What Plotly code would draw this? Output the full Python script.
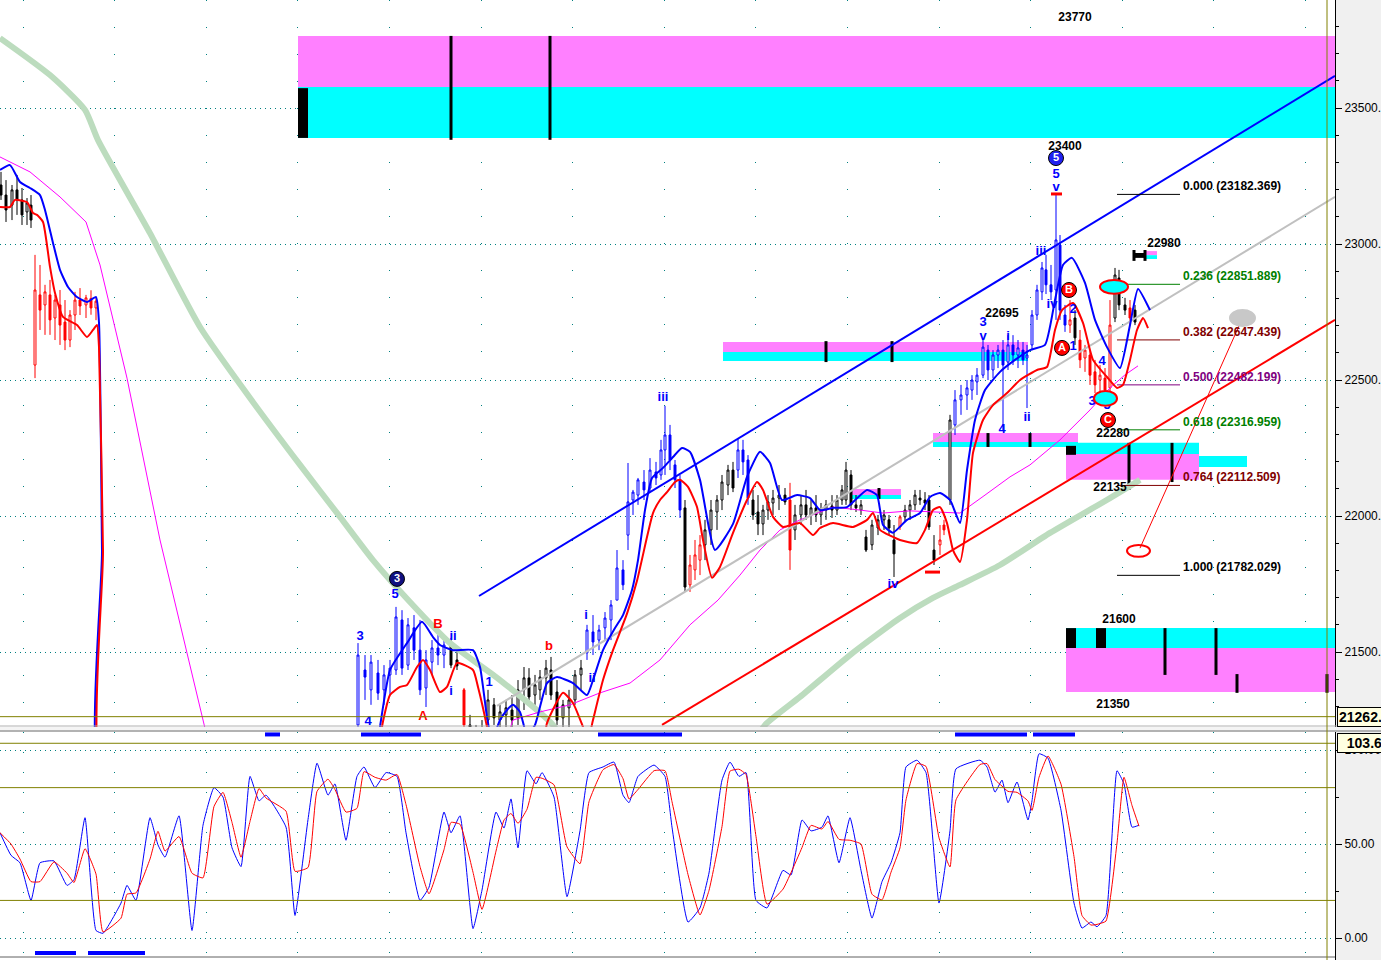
import plotly.graph_objects as go
import pandas as pd

# ------------------------------------------------------------------
# Axis ranges (price panel and stochastic panel)
# ------------------------------------------------------------------
PRICE_TOP, PRICE_BOTTOM = 23897, 21224.5
STOCH_TOP, STOCH_BOTTOM = 109.6, -11.7
X_END = 1335

price_ticks = [21500, 22000, 22500, 23000, 23500]
price_tick_text = ["21500.", "22000.", "22500.", "23000.", "23500."]
stoch_ticks = [0, 50, 100]
stoch_tick_text = ["0.00", "50.00", "100.00"]

# ------------------------------------------------------------------
# Candles: bar position, open, high, low, close, colour group
# ------------------------------------------------------------------
candle_x = [1, 6, 12, 17, 22, 27, 31, 35, 40, 45, 50, 55, 60, 65, 70, 75, 80, 86, 91, 96,
            358, 365, 371, 378, 384, 390, 396, 402, 408, 414, 420, 426, 432, 438, 444, 451, 457, 464,
            470, 476, 482, 488, 494, 500, 506, 512, 518, 524, 529, 535, 540, 546, 551, 557, 563, 569,
            575, 581, 587, 593, 599, 605, 611, 617, 623, 628, 633, 638, 644, 650, 656, 661, 665, 670,
            675, 680, 685, 690, 695, 700, 705, 711, 717, 722, 728, 733, 738, 743, 748, 753, 758, 763,
            768, 773, 779, 785, 790, 795, 801, 806, 811, 816, 821, 826, 832, 837, 842, 846, 851, 856,
            861, 866, 872, 878, 884, 889, 894, 900, 905, 910, 915, 920, 925, 929, 934, 940, 944, 950,
            955, 961, 967, 972, 977, 983, 988, 993, 998, 1003, 1008, 1013, 1018, 1023, 1027, 1032,
            1037, 1042, 1046, 1051, 1056, 1060, 1065, 1070, 1075, 1080, 1085, 1090, 1095, 1100, 1105,
            1110, 1115, 1119, 1125, 1130, 1135]
candle_open = [23217, 23180, 23143, 23199, 23162, 23118, 23143, 22555, 22813, 22776, 22813, 22728, 22776, 22713, 22647, 22739, 22794, 22776, 22800, 22765,
               21232, 21434, 21361, 21423, 21361, 21416, 21434, 21618, 21452, 21589, 21507, 21368, 21463, 21515, 21489, 21533, 21471, 21361,
               21232, 21195, 21170, 21250, 21306, 21250, 21269, 21287, 21258, 21361, 21405, 21342, 21361, 21405, 21434, 21353, 21258, 21295,
               21324, 21416, 21497, 21574, 21544, 21589, 21618, 21691, 21802, 21930, 22059, 22077, 22125, 22103, 22162, 22151, 22243, 22298,
               22188, 22133, 22030, 21747, 21802, 21838, 21894, 21949, 22015, 22059, 22114, 22169, 22169, 22243, 22206, 22059, 22015, 21971,
               22022, 22048, 22066, 22077, 22059, 21949, 22004, 22041, 22004, 22030, 22004, 22022, 22037, 22022, 22059, 22059, 22151, 22041,
               22022, 21923, 21894, 21956, 21986, 21986, 21912, 21960, 21997, 22022, 22041, 22066, 22059, 22059, 21875, 21894, 21967, 22059,
               22335, 22427, 22445, 22463, 22493, 22518, 22610, 22537, 22592, 22610, 22566, 22629, 22592, 22610, 22581, 22629,
               22739, 22824, 22905, 22850, 22831, 22996, 22739, 22702, 22728, 22647, 22581, 22592, 22530, 22500, 22507,
               22471, 22728, 22875, 22776, 22765, 22757]
candle_high = [23265, 23235, 23217, 23254, 23206, 23169, 23180, 22960, 22923, 22850, 22868, 22813, 22831, 22794, 22757, 22824, 22838, 22813, 22830, 22805,
               21533, 21489, 21489, 21471, 21452, 21471, 21666, 21654, 21625, 21636, 21618, 21507, 21544, 21563, 21544, 21552, 21507, 21368,
               21269, 21232, 21250, 21361, 21331, 21306, 21324, 21342, 21397, 21445, 21441, 21416, 21434, 21471, 21482, 21397, 21324, 21361,
               21434, 21471, 21600, 21636, 21600, 21647, 21691, 21875, 21838, 22195, 22096, 22140, 22169, 22213, 22199, 22280, 22405, 22335,
               22206, 22151, 22059, 21857, 21912, 21930, 21986, 22059, 22077, 22151, 22188, 22199, 22287, 22280, 22224, 22096, 22077, 22041,
               22077, 22096, 22114, 22103, 22122, 22041, 22077, 22096, 22059, 22077, 22048, 22059, 22077, 22077, 22114, 22199, 22169, 22077,
               22059, 21949, 21986, 22004, 22022, 22004, 21967, 22004, 22041, 22059, 22096, 22096, 22088, 22077, 21930, 21967, 21986, 22372,
               22463, 22482, 22500, 22518, 22544, 22655, 22629, 22610, 22629, 22647, 22665, 22665, 22647, 22640, 22629, 22757,
               22850, 22934, 22960, 22923, 23184, 23033, 22776, 22794, 22757, 22684, 22629, 22610, 22574, 22555, 22544,
               22794, 22912, 22905, 22802, 22794, 22776]
candle_low = [23162, 23081, 23088, 23107, 23070, 23070, 23059, 22507, 22684, 22666, 22666, 22647, 22629, 22610, 22621, 22684, 22739, 22728, 22740, 22720,
              21225, 21324, 21306, 21324, 21306, 21342, 21416, 21416, 21434, 21471, 21342, 21298, 21416, 21452, 21441, 21441, 21434, 21150,
              21177, 21140, 21122, 21195, 21232, 21195, 21214, 21221, 21232, 21287, 21324, 21306, 21324, 21342, 21324, 21232, 21221, 21221,
              21306, 21361, 21471, 21489, 21507, 21544, 21544, 21691, 21728, 21875, 22004, 22041, 22059, 22088, 22114, 22133, 22151, 22169,
              22103, 21993, 21721, 21721, 21765, 21783, 21838, 21894, 21949, 22022, 22077, 22088, 22140, 22151, 22041, 21986, 21930, 21930,
              21986, 22004, 22022, 22041, 21802, 21912, 21967, 21986, 21967, 21978, 21967, 21986, 21993, 22004, 22041, 22041, 22022, 22015,
              22004, 21868, 21875, 21930, 21949, 21930, 21776, 21949, 21978, 21986, 22022, 22041, 22022, 21949, 21820, 21857, 21930, 22041,
              22298, 22372, 22390, 22427, 22445, 22507, 22500, 22507, 22544, 22316, 22537, 22555, 22544, 22555, 22397, 22610,
              22721, 22794, 22816, 22794, 22721, 22721, 22677, 22673, 22629, 22544, 22530, 22482, 22452, 22445, 22434,
              22456, 22713, 22757, 22739, 22702, 22702]
candle_close = [23180, 23125, 23199, 23162, 23107, 23151, 23088, 22831, 22757, 22824, 22721, 22794, 22702, 22647, 22739, 22794, 22772, 22802, 22765, 22790,
                21489, 21408, 21463, 21349, 21416, 21441, 21629, 21441, 21600, 21507, 21361, 21471, 21515, 21489, 21526, 21452, 21449, 21232,
                21195, 21158, 21221, 21324, 21258, 21280, 21295, 21250, 21361, 21405, 21335, 21379, 21408, 21441, 21342, 21250, 21306, 21324,
                21416, 21441, 21581, 21537, 21581, 21625, 21673, 21809, 21747, 22052, 22088, 22133, 22096, 22169, 22140, 22243, 22298, 22206,
                22133, 22022, 21739, 21820, 21857, 21894, 21949, 22022, 22059, 22125, 22169, 22103, 22243, 22199, 22066, 22004, 21971, 22022,
                22052, 22066, 22077, 22052, 21875, 22004, 22041, 22004, 22030, 22004, 22022, 22041, 22022, 22059, 22096, 22169, 22041, 22030,
                22041, 21875, 21967, 21986, 22004, 21956, 21861, 21997, 22022, 22041, 22077, 22059, 22048, 21960, 21838, 21912, 21949, 22353,
                22427, 22445, 22471, 22500, 22518, 22621, 22537, 22592, 22610, 22555, 22629, 22592, 22618, 22574, 22592, 22739,
                22831, 22912, 22850, 22824, 23015, 22757, 22702, 22721, 22655, 22574, 22610, 22518, 22482, 22518, 22463,
                22702, 22886, 22776, 22757, 22728, 22713]
candle_group = (["k"] * 7 + ["r"] * 13 + ["b"] * 15 + ["k", "k", "r"] + ["k"] * 20 + ["b"] * 18 + ["k"] +
                ["r"] * 3 + ["k"] * 6 + ["b"] * 3 + ["k"] * 7 + ["r"] + ["k"] * 20 + ["r"] + ["k"] * 7 +
                ["r", "r", "k"] + ["b"] * 23 + ["r", "k"] + ["r"] * 7 + ["k", "k", "k", "r", "k"])

# ------------------------------------------------------------------
# Indicator lines on price panel
# ------------------------------------------------------------------
band_blue_x = [0, 10, 20, 30, 40, 45, 53, 60, 68, 77, 87, 96, 99, 102, 105, 370, 380, 390, 407, 422, 433, 440, 453,
               473, 480, 487, 492, 500, 507, 513, 520, 527, 535, 547, 557, 573, 587, 593, 603, 615, 623, 632, 638,
               645, 652, 663, 673, 682, 690, 700, 715, 733, 747, 760, 770, 782, 797, 810, 820, 833, 847, 867, 877,
               883, 893, 907, 920, 930, 940, 950, 960, 967, 975, 985, 1000, 1015, 1030, 1045, 1055, 1063, 1072,
               1085, 1095, 1107, 1120, 1130, 1138, 1150]
band_blue_y = [23272, 23290, 23228, 23206, 23180, 23125, 23004, 22905, 22842, 22805, 22787, 22805, 22710, 21875, 20956,
               20956, 21225, 21434, 21533, 21611, 21555, 21526, 21507, 21507, 21445, 21261, 21177, 21250, 21287,
               21306, 21280, 21195, 21232, 21386, 21408, 21386, 21342, 21397, 21507, 21588, 21636, 21728, 21838,
               22022, 22140, 22177, 22217, 22250, 22236, 22133, 21875, 21971, 22144, 22236, 22195, 22059, 22077,
               22066, 22022, 22030, 22033, 22096, 22077, 21967, 21939, 21986, 22011, 22070, 22085, 22059, 21974,
               22169, 22353, 22463, 22530, 22574, 22610, 22629, 22794, 22923, 22949, 22857, 22721, 22621, 22544,
               22702, 22835, 22757]
band_red_x = [0, 10, 15, 27, 33, 37, 43, 50, 55, 63, 77, 87, 93, 97, 99, 103, 107, 375, 382, 390, 400, 407, 417, 423,
              430, 440, 447, 457, 473, 478, 487, 493, 540, 547, 563, 573, 583, 588, 593, 603, 613, 627, 637, 647,
              653, 660, 667, 675, 680, 688, 697, 703, 712, 720, 733, 747, 757, 763, 773, 783, 800, 813, 820, 833,
              853, 867, 873, 880, 900, 917, 925, 933, 940, 947, 953, 960, 967, 973, 983, 993, 1007, 1020, 1037,
              1047, 1055, 1062, 1073, 1083, 1093, 1107, 1117, 1123, 1130, 1137, 1143, 1148]
band_red_y = [23136, 23136, 23162, 23154, 23114, 23107, 23081, 22916, 22820, 22732, 22702, 22658, 22684, 22702, 22621,
              21875, 20956, 20956, 21225, 21342, 21372, 21379, 21445, 21471, 21434, 21353, 21372, 21460, 21434,
              21372, 21225, 21103, 21103, 21239, 21350, 21313, 21225, 21177, 21250, 21397, 21507, 21641, 21762,
              21923, 22011, 22059, 22088, 22125, 22133, 22107, 22033, 21912, 21773, 21813, 21938, 22059, 22125,
              22096, 21997, 21960, 21974, 21930, 21956, 21974, 21960, 21986, 22011, 21949, 21912, 21901, 21949,
              22022, 22033, 21974, 21875, 21831, 21986, 22232, 22353, 22408, 22452, 22500, 22537, 22548, 22684,
              22757, 22783, 22710, 22574, 22511, 22471, 22482, 22574, 22684, 22728, 22691]
ma_magenta_x = [0, 30, 60, 86, 100, 127, 160, 205, 215, 495, 513, 540, 570, 600, 630, 660, 690, 718, 740, 760, 780,
                800, 820, 833, 860, 883, 910, 933, 960, 985, 1010, 1030, 1060, 1090, 1110, 1125, 1138]
ma_magenta_y = [23320, 23265, 23173, 23081, 22923, 22507, 21912, 21232, 21066, 21066, 21250, 21280, 21306, 21350,
                21386, 21471, 21600, 21691, 21783, 21875, 21949, 21986, 22015, 22033, 22022, 22011, 22019, 22015,
                22011, 22077, 22144, 22188, 22280, 22390, 22471, 22519, 22552]
ma_green_x = [0, 50, 85, 98, 150, 200, 250, 300, 340, 373, 410, 450, 500, 553, 575, 740, 765, 800, 850, 900, 933,
              960, 1000, 1050, 1110, 1140]
ma_green_y = [23757, 23621, 23493, 23382, 23040, 22695, 22434, 22188, 21997, 21838, 21684, 21533, 21397, 21232,
              21103, 21103, 21232, 21335, 21489, 21625, 21699, 21747, 21820, 21938, 22066, 22133]

# Trend channel anchors (x, price)
channel_blue_x, channel_blue_y = [479, 1335], [21706, 23618]
channel_gray_x, channel_gray_y = [497, 1335], [21302, 23173]
channel_red_x, channel_red_y = [662, 1335], [21232, 22721]
projection_x, projection_y = [1243, 1140], [22732, 21882]

# Fibonacci retracement
fib_ratio = ["0.000", "0.236", "0.382", "0.500", "0.618", "0.764", "1.000"]
fib_price = [23182.369, 22851.889, 22647.439, 22482.199, 22316.959, 22112.509, 21782.029]
fib_color = ["#000000", "#008000", "#800000", "#800080", "#008000", "#800000", "#000000"]
fib_x_start, fib_x_end = 1117, 1180

# Supply / demand zones: x0, x1, low, high, colour
MAG, CYN = "#ff80ff", "#00ffff"
zone_x0 = [298, 298, 723, 723, 852, 852, 933, 933, 1066, 1066, 1199, 1066, 1066, 1145, 1145]
zone_x1 = [1335, 1335, 1028, 1028, 901, 901, 1078, 1078, 1199, 1199, 1247, 1335, 1335, 1157, 1157]
zone_lo = [23577, 23390, 22603, 22570, 22077, 22063, 22272, 22254, 22228, 22133, 22180, 21515, 21353, 22959, 22945]
zone_hi = [23765, 23577, 22640, 22603, 22099, 22077, 22305, 22272, 22269, 22228, 22221, 21588, 21515, 22974, 22959]
zone_col = [MAG, CYN, MAG, CYN, MAG, CYN, MAG, CYN, CYN, MAG, CYN, CYN, MAG, MAG, CYN]
block_x0 = [298, 1066, 1066, 1096, 1134]
block_x1 = [308, 1076, 1076, 1106, 1145]
block_lo = [23390, 22225, 21515, 21515, 22949]
block_hi = [23573, 22258, 21588, 21588, 22967]
tick_x = [451, 550, 826, 892, 879, 988, 1030, 1129, 1172, 1165, 1216, 1237, 1327, 1134, 1145]
tick_lo = [23383, 23383, 22566, 22566, 22063, 22254, 22254, 22096, 22125, 21416, 21416, 21350, 21350, 22938, 22938]
tick_hi = [23765, 23765, 22643, 22643, 22103, 22305, 22305, 22269, 22269, 21588, 21588, 21419, 21419, 22978, 22978]

# Ellipses: x0, x1, low, high, fill, border
ell_x0 = [1100, 1094, 1127, 1230]
ell_x1 = [1128, 1117, 1150, 1255]
ell_lo = [22817, 22405, 21850, 22699]
ell_hi = [22868, 22460, 21894, 22757]
ell_fill = ["#00ffff", "#00ffff", "rgba(0,0,0,0)", "#c8c8c8"]
ell_line = ["#ff0000", "#ff0000", "#ff0000", "#c8c8c8"]

# Small red level marks: x0, x1, price
mark_x0, mark_x1, mark_p = [1051, 925], [1062, 940], [23184, 21794]

current_price = 21262.5
current_stoch = 103.6
olive_x = 1327

# Text labels
num_text = ["23770", "23400", "22980", "22695", "22280", "22135", "21600", "21350"]
num_x = [1075, 1065, 1164, 1002, 1113, 1110, 1119, 1113]
num_p = [23831, 23357, 23000, 22743, 22302, 22103, 21618, 21305]
wave_text = ["5", "v", "iii", "iv", "2", "1", "4", "3", "5", "3", "v", "i", "4", "ii", "iii", "iv", "5", "3",
             "4", "ii", "i", "1", "i", "ii"]
wave_x = [1056, 1056, 1041, 1052, 1073, 1073, 1102, 1092, 1107, 983, 983, 1008, 1002, 1027, 663, 893, 395, 360,
          368, 453, 451, 489, 586, 592]
wave_p = [23254, 23206, 22971, 22776, 22757, 22621, 22566, 22419, 22405, 22710, 22658, 22658, 22316, 22360,
          22434, 21746, 21710, 21555, 21243, 21555, 21353, 21386, 21633, 21401]
wave_red_text = ["B", "A", "b"]
wave_red_x = [438, 423, 549]
wave_red_p = [21599, 21261, 21519]
circ_text = ["5", "3", "B", "A", "C"]
circ_x = [1056, 397, 1069, 1062, 1108]
circ_p = [23316, 21769, 22831, 22618, 22353]
circ_fill = ["#2020f0", "#101080", "#ff0000", "#ff0000", "#ff0000"]

# ------------------------------------------------------------------
# Stochastic oscillator (%K); %D is its short moving average
# ------------------------------------------------------------------
stoch_x = [0, 11, 20, 31, 40, 54, 67, 74, 85, 96, 103, 121, 127, 136, 150, 158, 165, 179, 192, 203,
           214, 223, 232, 241, 250, 259, 266, 286, 295, 308, 317, 328, 335, 346, 357, 364, 375, 386, 397, 406,
           420, 429, 444, 451, 460, 473, 482, 496, 504, 511, 518, 527, 536, 542, 554, 567, 580, 589, 603, 614,
           623, 629, 638, 654, 665, 672, 688, 700, 709, 722, 730, 739, 746, 756, 767, 783, 791, 802,
           811, 822, 828, 839, 850, 861, 872, 882, 891, 900, 906, 917, 926, 939, 950, 956, 980, 987, 995, 1002,
           1008, 1017, 1028, 1032, 1039, 1048, 1061, 1074, 1082, 1091, 1097, 1106, 1117, 1124, 1132, 1139]
stoch_k = [56, 44, 40, 20, 40, 41, 28, 31, 64, 4, 2.5, 18.6, 28, 20, 64, 49.5, 43, 65, 4, 60,
           80, 75, 48, 38, 86, 73, 76, 59, 12, 63, 93, 76, 82, 52, 86, 91, 80, 88, 86, 56,
           20, 27, 67, 56, 65, 5, 25.5, 67, 58.5, 74, 48, 89, 82, 88, 75, 22, 57, 88, 91, 93.6,
           76, 72, 86, 92, 86, 59, 8.5, 16, 34.6, 84, 93.6, 86, 88, 20, 16, 36, 33.5, 62.8,
           57, 59, 65, 40, 64, 36, 10.6, 30, 40, 56, 91, 94.6, 88, 18.6, 57, 90, 94.6, 91, 77.6, 84,
           72, 83, 62.8, 73, 98, 95.7, 68, 18.6, 5.3, 8.5, 6, 12, 89, 82, 59, 60]
stoch_d = pd.Series(stoch_k).rolling(2, min_periods=1).mean().tolist()
stoch_levels = [80, 20]
signal_top = [(265, 280), (361, 421), (598, 682), (955, 1027), (1033, 1075)]
signal_bottom = [(35, 76), (88, 145)]

# ------------------------------------------------------------------
# Figure
# ------------------------------------------------------------------
W, H = 1381, 960
XD = X_END / W
MAIN_BOTTOM_PX, STOCH_TOP_PX = 727, 732
TEAL = "#008080"
OLIVE = "#808000"
FONT = "Liberation Sans"

fig = go.Figure()

# right axis strip
fig.add_shape(type="rect", xref="paper", yref="paper", x0=XD, x1=1, y0=0, y1=1,
              fillcolor="#f0f0f0", line_width=0, layer="below")
# panel separator
fig.add_shape(type="rect", xref="paper", yref="paper", x0=0, x1=1,
              y0=1 - STOCH_TOP_PX / H, y1=1 - MAIN_BOTTOM_PX / H,
              fillcolor="#f4f4f4", line_width=0, layer="below")
fig.add_shape(type="line", xref="paper", yref="paper", x0=0, x1=1,
              y0=1 - (MAIN_BOTTOM_PX - 1) / H, y1=1 - (MAIN_BOTTOM_PX - 1) / H,
              line=dict(color="#b0b0b0", width=1))
fig.add_shape(type="line", xref="paper", yref="paper", x0=0, x1=1,
              y0=1 - (STOCH_TOP_PX - 1) / H, y1=1 - (STOCH_TOP_PX - 1) / H,
              line=dict(color="#707070", width=1))
fig.add_shape(type="line", xref="paper", yref="paper", x0=0, x1=XD, y0=3 / H, y1=3 / H,
              line=dict(color="#606060", width=1))

# zones
for x0, x1, lo, hi, col in zip(zone_x0, zone_x1, zone_lo, zone_hi, zone_col):
    fig.add_shape(type="rect", xref="x", yref="y", x0=x0, x1=x1, y0=lo, y1=hi,
                  fillcolor=col, line_width=0, layer="between")
for x0, x1, lo, hi in zip(block_x0, block_x1, block_lo, block_hi):
    fig.add_shape(type="rect", xref="x", yref="y", x0=x0, x1=x1, y0=lo, y1=hi,
                  fillcolor="black", line_width=0, layer="between")
for x, lo, hi in zip(tick_x, tick_lo, tick_hi):
    fig.add_shape(type="line", xref="x", yref="y", x0=x, x1=x, y0=lo, y1=hi,
                  line=dict(color="black", width=3), layer="between")

# olive reference lines
fig.add_shape(type="line", xref="x", yref="paper", x0=olive_x, x1=olive_x, y0=0, y1=1,
              line=dict(color=OLIVE, width=1))
fig.add_shape(type="line", xref="paper", yref="y", x0=0, x1=XD, y0=current_price, y1=current_price,
              line=dict(color=OLIVE, width=1))
fig.add_shape(type="line", xref="paper", yref="y2", x0=0, x1=XD, y0=current_stoch, y1=current_stoch,
              line=dict(color=OLIVE, width=1))
for lv in stoch_levels:
    fig.add_shape(type="line", xref="paper", yref="y2", x0=0, x1=XD, y0=lv, y1=lv,
                  line=dict(color=OLIVE, width=1))

# moving averages and channels
fig.add_trace(go.Scatter(x=ma_green_x, y=ma_green_y, mode="lines",
                         line=dict(color="#bcdcbe", width=6, shape="spline", smoothing=0.6),
                         hoverinfo="skip"))
fig.add_trace(go.Scatter(x=ma_magenta_x, y=ma_magenta_y, mode="lines", line=dict(color="#ff00ff", width=1),
                         hoverinfo="skip"))
fig.add_trace(go.Scatter(x=channel_gray_x, y=channel_gray_y, mode="lines", line=dict(color="#c0c0c0", width=2),
                         hoverinfo="skip"))
fig.add_trace(go.Scatter(x=channel_blue_x, y=channel_blue_y, mode="lines", line=dict(color="#0000ff", width=2),
                         hoverinfo="skip"))
fig.add_trace(go.Scatter(x=channel_red_x, y=channel_red_y, mode="lines", line=dict(color="#ff0000", width=2),
                         hoverinfo="skip"))
fig.add_trace(go.Scatter(x=projection_x, y=projection_y, mode="lines", line=dict(color="#ff0000", width=1),
                         hoverinfo="skip"))

# fibonacci lines
for r, p, c in zip(fib_ratio, fib_price, fib_color):
    fig.add_trace(go.Scatter(x=[fib_x_start, fib_x_end], y=[p, p], mode="lines",
                             line=dict(color=c, width=1), hoverinfo="skip"))
    fig.add_annotation(x=fib_x_end + 1, y=p, xref="x", yref="y", xanchor="left", yanchor="bottom",
                       text=f"<b>{r} ({p:.3f})</b>", showarrow=False, yshift=-1,
                       font=dict(family=FONT, size=12, color=c))

# bands
fig.add_trace(go.Scatter(x=band_blue_x, y=band_blue_y, mode="lines",
                         line=dict(color="#0000ff", width=2, shape="spline", smoothing=0.5),
                         hoverinfo="skip"))
fig.add_trace(go.Scatter(x=band_red_x, y=band_red_y, mode="lines",
                         line=dict(color="#ff0000", width=2, shape="spline", smoothing=0.5),
                         hoverinfo="skip"))

# candles by colour group
group_color = {"k": "#000000", "b": "#0000ff", "r": "#ff0000"}
for g, col in group_color.items():
    idx = [i for i, gg in enumerate(candle_group) if gg == g]
    fig.add_trace(go.Candlestick(
        x=[candle_x[i] for i in idx], open=[candle_open[i] for i in idx],
        high=[candle_high[i] for i in idx], low=[candle_low[i] for i in idx],
        close=[candle_close[i] for i in idx],
        increasing=dict(line=dict(color=col, width=1), fillcolor="white"),
        decreasing=dict(line=dict(color=col, width=1), fillcolor=col),
        whiskerwidth=0, hoverinfo="skip", xaxis="x", yaxis="y"))

# ellipses and marks
for x0, x1, lo, hi, fc, lc in zip(ell_x0, ell_x1, ell_lo, ell_hi, ell_fill, ell_line):
    fig.add_shape(type="circle", xref="x", yref="y", x0=x0, x1=x1, y0=lo, y1=hi,
                  fillcolor=fc, line=dict(color=lc, width=2), layer="above")
for x0, x1, p in zip(mark_x0, mark_x1, mark_p):
    fig.add_shape(type="line", xref="x", yref="y", x0=x0, x1=x1, y0=p, y1=p,
                  line=dict(color="#ff0000", width=3), layer="above")

# text labels
fig.add_trace(go.Scatter(x=num_x, y=num_p, mode="text", text=num_text, cliponaxis=False,
                         textfont=dict(family=FONT, size=12, color="black", weight="bold"),
                         hoverinfo="skip"))
fig.add_trace(go.Scatter(x=wave_x, y=wave_p, mode="text", text=wave_text, cliponaxis=False,
                         textfont=dict(family=FONT, size=13, color="#0000ff", weight="bold"),
                         hoverinfo="skip"))
fig.add_trace(go.Scatter(x=wave_red_x, y=wave_red_p, mode="text", text=wave_red_text, cliponaxis=False,
                         textfont=dict(family=FONT, size=13, color="#ff0000", weight="bold"),
                         hoverinfo="skip"))
fig.add_trace(go.Scatter(x=circ_x, y=circ_p, mode="markers+text", text=circ_text, cliponaxis=False,
                         marker=dict(size=15, color=circ_fill, line=dict(color="black", width=1)),
                         textposition="middle center",
                         textfont=dict(family=FONT, size=11, color="white", weight="bold"),
                         hoverinfo="skip"))

# stochastic
fig.add_trace(go.Scatter(x=stoch_x, y=stoch_k, mode="lines",
                         line=dict(color="#0000ff", width=1, shape="spline", smoothing=0.4),
                         xaxis="x2", yaxis="y2", hoverinfo="skip"))
fig.add_trace(go.Scatter(x=stoch_x, y=stoch_d, mode="lines",
                         line=dict(color="#ff0000", width=1, shape="spline", smoothing=0.4),
                         xaxis="x2", yaxis="y2", hoverinfo="skip"))
for sig, lvl in ((signal_top, 108.3), (signal_bottom, -8)):
    xs, ys = [], []
    for a, b in sig:
        xs += [a, b, None]
        ys += [lvl, lvl, None]
    fig.add_trace(go.Scatter(x=xs, y=ys, mode="lines", line=dict(color="#0000ff", width=4),
                             xaxis="x2", yaxis="y2", hoverinfo="skip", cliponaxis=False))

# value boxes on the right axis
fig.add_annotation(xref="paper", x=(X_END + 2) / W, xanchor="left", yref="y", y=current_price,
                   text="<b>21262.5</b>", showarrow=False, bgcolor="#ffffe1", bordercolor="black",
                   borderwidth=1, borderpad=1, font=dict(family=FONT, size=14, color="black"))
fig.add_annotation(xref="paper", x=(X_END + 2) / W, xanchor="left", yref="y2", y=current_stoch,
                   text="<b>  103.6  </b>", showarrow=False, bgcolor="#ffffe1", bordercolor="black",
                   borderwidth=1, borderpad=1, font=dict(family=FONT, size=14, color="black"))

xaxis_common = dict(range=[0, X_END], showticklabels=False, ticks="", zeroline=False,
                    showgrid=True, gridcolor=TEAL, griddash="1px,26px", gridwidth=1,
                    tickmode="linear", tick0=23, dtick=91.6, fixedrange=True)
yfont = dict(family=FONT, size=12, color="black")
fig.update_layout(
    width=W, height=H, margin=dict(l=0, r=0, t=0, b=0),
    paper_bgcolor="white", plot_bgcolor="white", showlegend=False,
    xaxis=dict(domain=[0, XD], anchor="y", rangeslider=dict(visible=False), **xaxis_common),
    xaxis2=dict(domain=[0, XD], anchor="y2", **{**xaxis_common, "griddash": "1px,19px"}),
    yaxis=dict(domain=[1 - MAIN_BOTTOM_PX / H, 1], range=[PRICE_BOTTOM, PRICE_TOP], side="right",
               anchor="x", tickmode="array", tickvals=price_ticks, ticktext=price_tick_text,
               ticks="outside", ticklen=6, tickcolor="black", tickfont=yfont,
               showline=True, linecolor="black", linewidth=1, zeroline=False,
               showgrid=True, gridcolor=TEAL, griddash="1px,4px", gridwidth=1,
               minor=dict(tickmode="linear", tick0=21500, dtick=100, ticks="outside", ticklen=3,
                          tickcolor="black", showgrid=False),
               fixedrange=True),
    yaxis2=dict(domain=[0, 1 - STOCH_TOP_PX / H], range=[STOCH_BOTTOM, STOCH_TOP], side="right",
                anchor="x2", tickmode="array", tickvals=stoch_ticks, ticktext=stoch_tick_text,
                ticks="outside", ticklen=6, tickcolor="black", tickfont=yfont,
                showline=True, linecolor="black", linewidth=1, zeroline=False,
                showgrid=True, gridcolor=TEAL, griddash="1px,4px", gridwidth=1,
                minor=dict(tickmode="linear", tick0=0, dtick=25, ticks="outside", ticklen=3,
                           tickcolor="black", showgrid=False),
                fixedrange=True),
)

fig.write_html("out.html", config={"displayModeBar": False},
               post_script="document.body.style.margin='0';document.body.style.overflow='hidden';")
